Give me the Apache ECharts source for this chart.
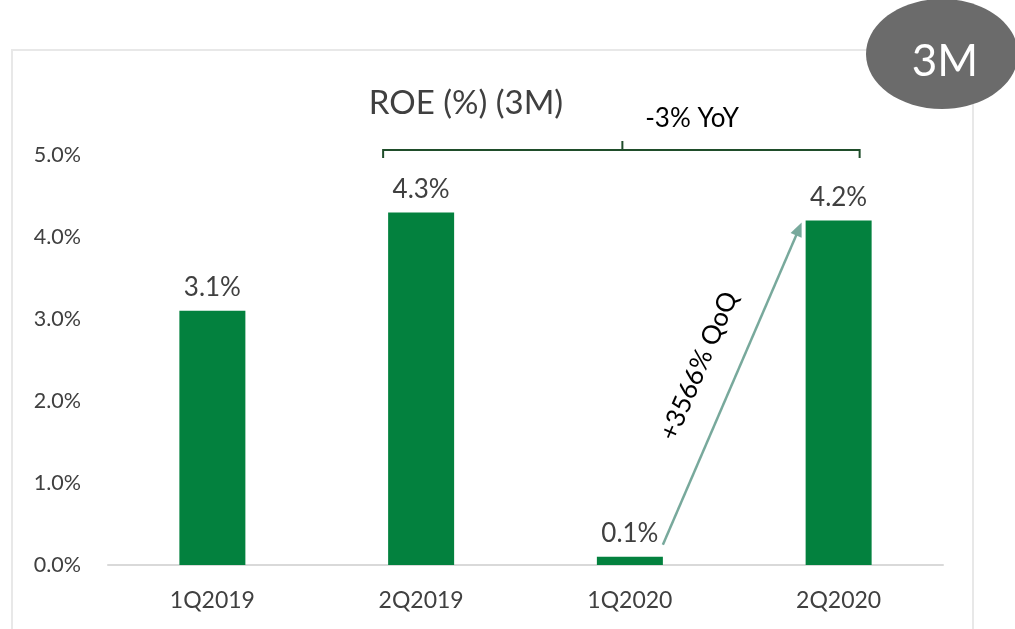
<!DOCTYPE html>
<html>
<head>
<meta charset="utf-8">
<script src="https://cdn.jsdelivr.net/npm/echarts@6/dist/echarts.min.js"></script>
<style>
  html, body { margin: 0; padding: 0; background: #fff; }
  #chart { width: 1015px; height: 629px; }
</style>
</head>
<body>
<div id="chart"></div>
<script>
const categories = ["1Q2019", "2Q2019", "1Q2020", "2Q2020"];
const roeValues = [3.1, 4.3, 0.1, 4.2];
const yTicks = [0, 1, 2, 3, 4, 5];
const titleText = "ROE (%) (3M)";
const yoyText = "-3% YoY";
const qoqText = "+3566% QoQ";
const badgeText = "3M";

const font = "Lato, 'Open Sans', sans-serif";
const chart = echarts.init(document.getElementById("chart"));

const option = {
  backgroundColor: "#fff",
  animation: false,
  grid: { left: 108, right: 72, top: 155, bottom: 64 },
  xAxis: {
    type: "category",
    data: categories,
    axisLine: { lineStyle: { color: "#d9d9d9", width: 2 } },
    axisTick: { show: false },
    axisLabel: { fontFamily: font, fontSize: 23, color: "#404040", margin: 24 }
  },
  yAxis: {
    type: "value",
    min: yTicks[0],
    max: yTicks[yTicks.length - 1],
    interval: 1,
    splitLine: { show: false },
    axisLine: { show: false },
    axisLabel: {
      fontFamily: font, fontSize: 21.5, color: "#404040", margin: 27,
      formatter: v => v.toFixed(1) + "%"
    }
  },
  series: [{
    type: "bar",
    data: roeValues,
    barWidth: 66,
    itemStyle: { color: "#03813e" },
    label: {
      show: true,
      position: "top",
      distance: 10,
      fontFamily: font, fontSize: 26, color: "#404040",
      formatter: p => p.value.toFixed(1) + "%"
    }
  }]
};
chart.setOption(option);

// annotations placed relative to the bars
const px = (i, v) => chart.convertToPixel({ gridIndex: 0 }, [i, v]);
const b2 = px(1, 5), b4 = px(3, 5);
const bl = b2[0] - 38, br = b4[0] + 21, by = b2[1] - 5;
const bm = (bl + br) / 2 + 1;
const aStart = px(2, roeValues[2]); aStart[0] += 33; aStart[1] -= 12;
const aEnd = px(3, roeValues[3]); aEnd[0] -= 37; aEnd[1] += 2;
const ang = Math.atan2(aEnd[1] - aStart[1], aEnd[0] - aStart[0]);
const head = 14;

chart.setOption({
  graphic: [
    { type: "rect", shape: { x: 12, y: 50, width: 961, height: 600 },
      style: { fill: "none", stroke: "#e8e8e8", lineWidth: 2 }, z: -1 },
    { type: "text", x: 466, y: 103,
      style: { text: titleText, font: "33px " + font, fill: "#404040", align: "center", verticalAlign: "middle" } },
    { type: "polyline", shape: { points: [[bl, by + 8], [bl, by], [br, by], [br, by + 8]] },
      style: { stroke: "#1f4d2a", lineWidth: 2, fill: "none" } },
    { type: "line", shape: { x1: bm, y1: by, x2: bm, y2: by - 9 },
      style: { stroke: "#1f4d2a", lineWidth: 2 } },
    { type: "text", x: 692, y: 119,
      style: { text: yoyText, font: "26px " + font, fill: "#000", align: "center", verticalAlign: "middle" } },
    { type: "line", shape: { x1: aStart[0], y1: aStart[1],
        x2: aEnd[0] - Math.cos(ang) * head * 0.8, y2: aEnd[1] - Math.sin(ang) * head * 0.8 },
      style: { stroke: "#78a99c", lineWidth: 2.5 } },
    { type: "polygon", shape: { points: [
        aEnd,
        [aEnd[0] - Math.cos(ang) * head + Math.sin(ang) * 6, aEnd[1] - Math.sin(ang) * head - Math.cos(ang) * 6],
        [aEnd[0] - Math.cos(ang) * head - Math.sin(ang) * 6, aEnd[1] - Math.sin(ang) * head + Math.cos(ang) * 6]
      ] }, style: { fill: "#78a99c" } },
    { type: "text", x: 699, y: 366, rotation: -ang,
      style: { text: qoqText, font: "26px " + font, fill: "#000", align: "center", verticalAlign: "middle" } },
    { type: "ellipse", shape: { cx: 942, cy: 54, rx: 76, ry: 55 },
      style: { fill: "#6b6b6b" } },
    { type: "text", x: 945, y: 62,
      style: { text: badgeText, font: "44px " + font, fill: "#fff", align: "center", verticalAlign: "middle" } }
  ]
});
</script>
</body>
</html>
